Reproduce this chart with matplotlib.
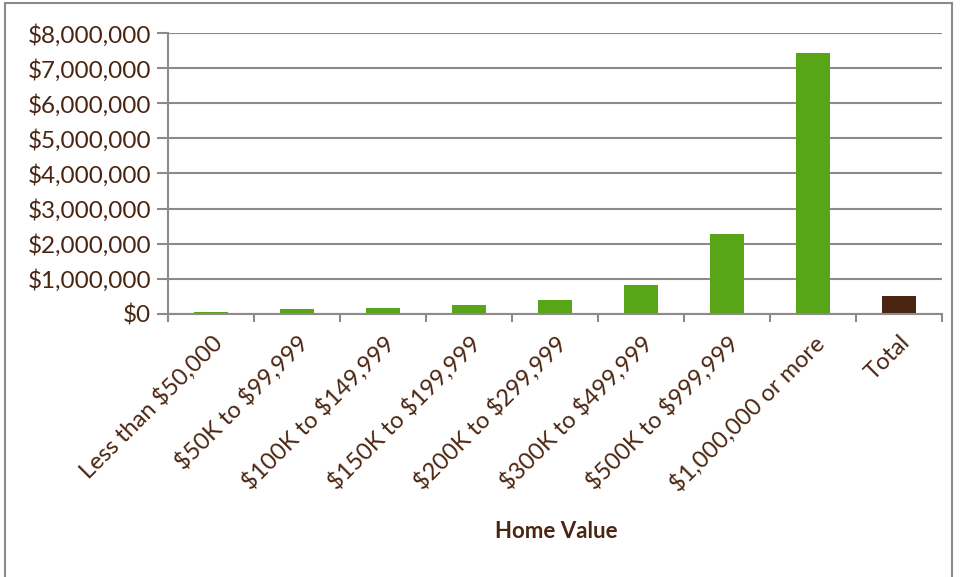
import matplotlib.pyplot as plt
from matplotlib.ticker import FuncFormatter
from matplotlib.patches import Rectangle

categories = ["Less than $50,000", "$50K to $99,999", "$100K to $149,999",
              "$150K to $199,999", "$200K to $299,999", "$300K to $499,999",
              "$500K to $999,999", "$1,000,000 or more", "Total"]
values = [50000, 120000, 175000, 250000, 395000, 810000, 2265000, 7440000, 500000]
colors = ["#58a618"] * 8 + ["#4a2511"]

text_color = "#4a2511"
grid_color = "#8f8a8a"
plt.rcParams["font.family"] = ["Lato", "DejaVu Sans"]
plt.rcParams["text.parse_math"] = False

fig = plt.figure(figsize=(9.6, 5.77), dpi=100)
ax = fig.add_axes([168 / 960, 1 - 313.7 / 577, (942 - 168) / 960, (313.7 - 33.2) / 577])

x = list(range(len(categories)))
ax.bar(x, values, width=0.4, color=colors, zorder=3)

ax.set_xlim(-0.5, len(categories) - 0.5)
ax.set_ylim(0, 8000000)
ax.set_yticks(range(0, 8000001, 1000000))
ax.yaxis.set_major_formatter(FuncFormatter(lambda v, p: f"${v:,.0f}"))
ax.grid(axis="y", color=grid_color, linewidth=1.5, zorder=0)

# category boundary ticks
ax.set_xticks([i - 0.5 for i in range(len(categories) + 1)])
ax.set_xticklabels([])
ax.set_xticks(x, minor=True)
ax.set_xticklabels(categories, minor=True, rotation=45, ha="right",
                   rotation_mode="anchor", fontsize=17, color=text_color)
ax.tick_params(axis="x", which="minor", length=0, pad=13)
ax.tick_params(axis="x", which="major", length=6, width=1.5, color=grid_color)
ax.tick_params(axis="y", length=8, width=1.5, color=grid_color, labelsize=17.5,
               labelcolor=text_color, pad=4)

for s in ["top", "right"]:
    ax.spines[s].set_visible(False)
for s in ["left", "bottom"]:
    ax.spines[s].set_color(grid_color)
    ax.spines[s].set_linewidth(1.5)
    ax.spines[s].set_zorder(4)

fig.text(556 / 960, 1 - 531 / 577, "Home Value", ha="center", va="center",
         fontsize=16, fontweight="bold", color=text_color)

fig.patches.append(Rectangle((5 / 960, -0.05), (952 - 5) / 960, 1 - 3.3 / 577 + 0.05,
                             transform=fig.transFigure, fill=False,
                             edgecolor=grid_color, linewidth=1.5))

fig.savefig("out.png", dpi=100)
